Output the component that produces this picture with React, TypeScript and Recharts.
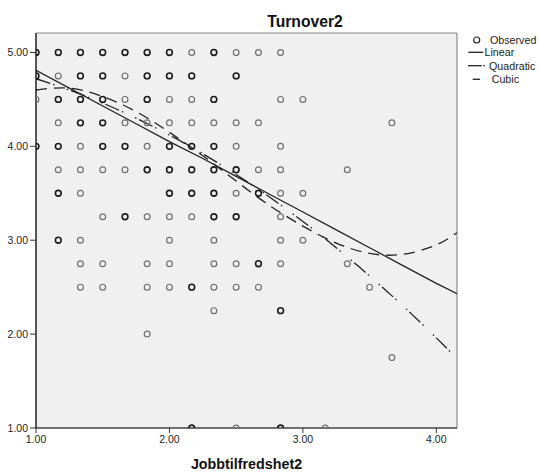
import { ComposedChart, Scatter, Line, XAxis, YAxis, CartesianGrid, ReferenceLine, Legend } from "recharts";

const FONT = '"Liberation Sans", Arial, Helvetica, sans-serif';

const xTicks = [1, 2, 3, 4];
const yTicks = [1, 2, 3, 4, 5];
const xDomain: [number, number] = [1, 4.155];
const yDomain: [number, number] = [1, 5.207];

// fitted curves, read at these Jobbtilfredshet2 values
const curveX = [1.0, 1.25, 1.5, 1.75, 2.0, 2.25, 2.5, 2.75, 3.0, 3.25, 3.5, 3.75, 4.0, 4.155];
const linearFit = [4.81, 4.62, 4.43, 4.24, 4.05, 3.87, 3.68, 3.49, 3.3, 3.11, 2.92, 2.73, 2.54, 2.43];
const quadraticFit = [4.72, 4.6, 4.46, 4.3, 4.12, 3.92, 3.7, 3.46, 3.2, 2.92, 2.62, 2.3, 1.96, 1.74];
const cubicFit = [4.6, 4.62, 4.53, 4.37, 4.15, 3.9, 3.63, 3.37, 3.15, 2.97, 2.86, 2.85, 2.95, 3.08];

// observed cases: [Jobbtilfredshet2, Turnover2, cases at that spot]
const observed: [number, number, number][] = [
  [1.0, 5, 2], [1.167, 5, 2], [1.333, 5, 2], [1.5, 5, 2], [1.667, 5, 2], [1.833, 5, 2], [2.0, 5, 2],
  [2.167, 5, 1], [2.333, 5, 2], [2.5, 5, 1], [2.667, 5, 1], [2.833, 5, 1],
  [1.0, 4.75, 2], [1.167, 4.75, 1], [1.333, 4.75, 2], [1.5, 4.75, 2], [1.667, 4.75, 1], [1.833, 4.75, 2],
  [2.0, 4.75, 2], [2.167, 4.75, 2], [2.5, 4.75, 2],
  [1.0, 4.5, 1], [1.167, 4.5, 2], [1.333, 4.5, 2], [1.5, 4.5, 2], [1.667, 4.5, 1], [1.833, 4.5, 2],
  [2.0, 4.5, 1], [2.167, 4.5, 1], [2.333, 4.5, 2], [2.833, 4.5, 1], [3.0, 4.5, 1],
  [1.167, 4.25, 1], [1.333, 4.25, 2], [1.5, 4.25, 2], [1.667, 4.25, 1], [1.833, 4.25, 1], [2.0, 4.25, 1],
  [2.167, 4.25, 1], [2.333, 4.25, 1], [2.5, 4.25, 1], [2.667, 4.25, 1], [3.667, 4.25, 1],
  [1.0, 4, 2], [1.167, 4, 2], [1.333, 4, 1], [1.5, 4, 2], [1.667, 4, 2], [1.833, 4, 1], [2.0, 4, 2],
  [2.167, 4, 2], [2.333, 4, 2], [2.5, 4, 1], [2.833, 4, 1],
  [1.167, 3.75, 1], [1.333, 3.75, 1], [1.5, 3.75, 1], [1.667, 3.75, 1], [1.833, 3.75, 2], [2.0, 3.75, 2],
  [2.167, 3.75, 2], [2.333, 3.75, 2], [2.5, 3.75, 2], [2.667, 3.75, 1], [2.833, 3.75, 1], [3.333, 3.75, 1],
  [1.167, 3.5, 2], [1.333, 3.5, 1], [2.0, 3.5, 2], [2.167, 3.5, 2], [2.333, 3.5, 2], [2.5, 3.5, 1],
  [2.667, 3.5, 2], [2.833, 3.5, 1], [3.0, 3.5, 1],
  [1.5, 3.25, 1], [1.667, 3.25, 2], [1.833, 3.25, 1], [2.0, 3.25, 1], [2.167, 3.25, 1], [2.333, 3.25, 2],
  [2.5, 3.25, 2], [2.833, 3.25, 1],
  [1.167, 3, 2], [1.333, 3, 1], [2.0, 3, 1], [2.333, 3, 1], [2.833, 3, 1], [3.0, 3, 1],
  [1.333, 2.75, 1], [1.5, 2.75, 1], [1.833, 2.75, 1], [2.0, 2.75, 1], [2.333, 2.75, 1], [2.5, 2.75, 1],
  [2.667, 2.75, 2], [2.833, 2.75, 1], [3.333, 2.75, 1],
  [1.333, 2.5, 1], [1.5, 2.5, 1], [1.833, 2.5, 1], [2.0, 2.5, 1], [2.167, 2.5, 2], [2.333, 2.5, 1],
  [2.5, 2.5, 1], [2.667, 2.5, 1], [3.5, 2.5, 1],
  [2.333, 2.25, 1], [2.833, 2.25, 2], [1.833, 2, 1], [3.667, 1.75, 1],
  [2.167, 1, 2], [2.5, 1, 1], [2.833, 1, 2], [3.167, 1, 1],
];

const curveRows = curveX.map((x, i) => ({ x, linear: linearFit[i], quadratic: quadraticFit[i], cubic: cubicFit[i] }));
const pointRows = observed.map(([x, y, n]) => ({ x, y, n }));

const INK = "#222";
const DASH_DOT = "15 3 1.5 13 1.5 3";
const DASHED = "11 7";

function Ring(props: any) {
  const { cx, cy, payload } = props;
  const many = payload.n > 1;
  return (
    <circle cx={cx} cy={cy} r={2.9} fill="none"
      stroke={many ? "#1c1c1c" : "#707070"} strokeWidth={many ? 1.6 : 1.2} />
  );
}

function FitLegend() {
  const txt = { fontSize: 10.7, fill: INK, fontFamily: FONT };
  return (
    <svg width={76} height={54} style={{ display: "block", overflow: "visible" }}>
      <circle cx={12.7} cy={7} r={3} fill="none" stroke={INK} strokeWidth={1.2} />
      <text x={26} y={7} dy="0.36em" {...txt}>Observed</text>
      <line x1={4.3} x2={19.3} y1={19.3} y2={19.3} stroke={INK} strokeWidth={1.3} />
      <text x={20.5} y={19.3} dy="0.36em" {...txt}>Linear</text>
      <line x1={4} x2={17.7} y1={32.7} y2={32.7} stroke={INK} strokeWidth={1.3} />
      <line x1={19.5} x2={21} y1={32.7} y2={32.7} stroke={INK} strokeWidth={1.3} />
      <text x={25} y={32.7} dy="0.36em" {...txt}>Quadratic</text>
      <line x1={8.7} x2={16} y1={46.3} y2={46.3} stroke={INK} strokeWidth={1.3} />
      <text x={27.7} y={46.3} dy="0.36em" {...txt}>Cubic</text>
    </svg>
  );
}

export default function App() {
  const tick = { fill: INK, fontSize: 10.5, fontFamily: FONT };
  return (
    <div style={{ position: "relative", width: 539, height: 472, background: "#fff" }}>
      <style>{"body{margin:0}"}</style>
      <svg width={539} height={40} style={{ position: "absolute", left: 0, top: 0 }}>
        <text x={305} y={26.5} textAnchor="middle" fontFamily={FONT} fontSize={15.7} fontWeight={700} fill="#111">
          Turnover2
        </text>
      </svg>
      <ComposedChart width={539} height={472} data={curveRows}
        margin={{ top: 33, right: 82, bottom: 0, left: 0 }} style={{ position: "absolute", left: 0, top: 0 }}>
        <CartesianGrid horizontal={false} vertical={false} fill="#f0f0f0" fillOpacity={1} />
        <ReferenceLine y={yDomain[1]} stroke="#8a8a8a" strokeWidth={1.2} />
        <ReferenceLine x={xDomain[1]} stroke="#8a8a8a" strokeWidth={1.2} />
        <XAxis type="number" dataKey="x" domain={xDomain} ticks={xTicks} allowDataOverflow
          tickFormatter={(v: number) => v.toFixed(2)} height={44} tickSize={5} tickMargin={3}
          axisLine={{ stroke: "#444", strokeWidth: 1.5 }} tickLine={{ stroke: "#333" }} tick={tick}
          label={{ value: "Jobbtilfredshet2", position: "insideBottom", offset: 3, fill: "#111",
            fontSize: 14.3, fontWeight: 700, fontFamily: FONT }} />
        <YAxis type="number" domain={yDomain} ticks={yTicks} allowDataOverflow width={36}
          tickFormatter={(v: number) => v.toFixed(2)} tickSize={6} tickMargin={2}
          axisLine={{ stroke: "#000", strokeWidth: 1.3 }} tickLine={{ stroke: "#333" }} tick={tick} />
        <Scatter data={pointRows} dataKey="y" shape={Ring} isAnimationActive={false} legendType="none" />
        <Line dataKey="linear" type="linear" stroke={INK} strokeWidth={1.3} dot={false} activeDot={false}
          isAnimationActive={false} />
        <Line dataKey="quadratic" type="natural" stroke={INK} strokeWidth={1.3} strokeDasharray={DASH_DOT}
          dot={false} activeDot={false} isAnimationActive={false} />
        <Line dataKey="cubic" type="natural" stroke={INK} strokeWidth={1.3} strokeDasharray={DASHED}
          dot={false} activeDot={false} isAnimationActive={false} />
        <Legend layout="vertical" align="center" verticalAlign="middle" content={FitLegend}
          wrapperStyle={{ left: 464, top: 33, width: 76 }} />
      </ComposedChart>
    </div>
  );
}
